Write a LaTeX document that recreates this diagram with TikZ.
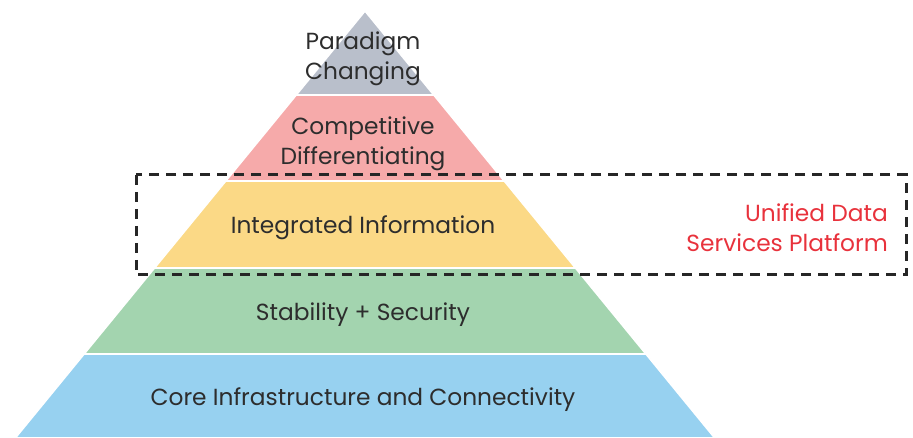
\documentclass[tikz,border=0pt]{standalone}
\usepackage{fontspec}
\setmainfont{Poppins}
\usetikzlibrary{calc}
\definecolor{gray@Pyr}{RGB}{185, 191, 203}
\definecolor{pink@Pyr}{RGB}{246, 170, 170}
\definecolor{yellow@Pyr}{RGB}{251, 217, 134}
\definecolor{green@Pyr}{RGB}{163, 212, 175}
\definecolor{blue@Pyr}{RGB}{151, 209, 240}
\definecolor{red@Pyr}{RGB}{232, 50, 60}
\definecolor{text@Pyr}{RGB}{45, 45, 45}

\begin{document}
\begin{tikzpicture}[x=1pt, y=-1pt, font=\fontsize{23.3}{30}\selectfont]
  \tikzstyle{layer}=[draw=white, line width=1.6pt, line join=miter]
  \tikzstyle{label}=[text=text@Pyr, align=center, inner sep=0pt]
  \tikzstyle{note}=[text=red@Pyr, align=right, inner sep=0pt, anchor=east]
  \tikzstyle{dashbox}=[draw=black!85, line width=3pt, dash pattern=on 10pt off 7pt]

  % constants
  \def \ApexX {365}
  \def \ApexY {11}
  \def \Slope {0.819}

  \useasboundingbox (0,0) rectangle (913,438);

    % Draw the layers
    \foreach \top/\bot/\col in
        {
          11/95/gray@Pyr,
          95/181/pink@Pyr,
          181/268/yellow@Pyr,
          268/354/green@Pyr,
          354/438/blue@Pyr%
        }
        \path[layer, fill=\col]
          ({\ApexX-\Slope*(\top-\ApexY)}, \top) -- ({\ApexX+\Slope*(\top-\ApexY)}, \top)
          -- ({\ApexX+\Slope*(\bot-\ApexY)}, \bot) -- ({\ApexX-\Slope*(\bot-\ApexY)}, \bot) -- cycle;

    % Layer texts
    \node[label] (paradigm) at (363, 59)  {Paradigm\\Changing};
    \node[label] (compet)   at (363, 144) {Competitive\\Differentiating};
    \node[label] (integr)   at (363, 228) {Integrated Information};
    \node[label] (stable)   at (363, 315) {Stability + Security};
    \node[label] (core)     at (363, 400) {Core Infrastructure and Connectivity};

    % Platform box
    \coordinate (boxNW) at (136, 175);
    \coordinate (boxSE) at (906, 275);
    \draw[dashbox] (boxNW) rectangle (boxSE);
    \node[note] (platform) at (888, 228) {Unified Data\\Services Platform};

\end{tikzpicture}
\end{document}
